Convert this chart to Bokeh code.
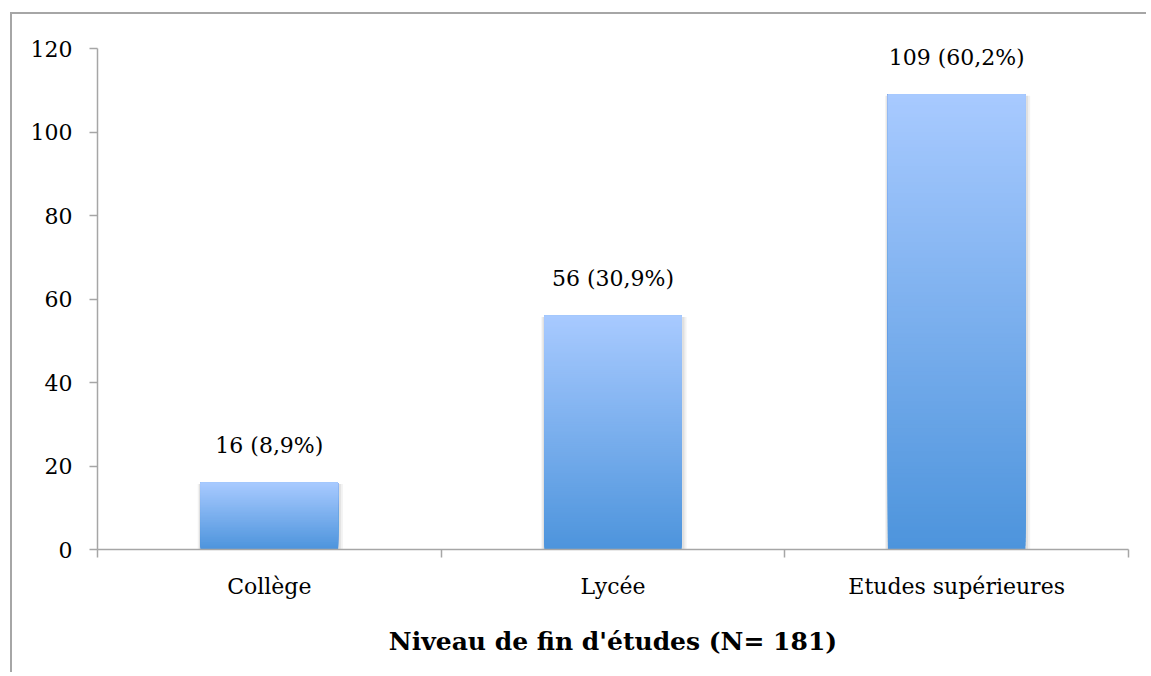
from bokeh.plotting import figure
from bokeh.models import Range1d, FixedTicker, ColumnDataSource
from bokeh.core.properties import value
from bokeh.embed import file_html
from bokeh.resources import INLINE

# ---- data ----
categories = ["Collège", "Lycée", "Etudes supérieures"]
counts = [16, 56, 109]
percents = ["8,9%", "30,9%", "60,2%"]
y_ticks = [0, 20, 40, 60, 80, 100, 120]
axis_title = "Niveau de fin d'études (N= 181)"

FONT = "DejaVu Serif"
AXIS_COLOR = "#a6a6a6"
TOP_RGB = (168, 202, 255)
BOT_RGB = (77, 148, 220)
N_SLICES = 120
BAR_W = 0.4

xs = [i + 0.5 for i in range(len(categories))]

p = figure(width=1136, height=660, output_backend="svg", toolbar_location=None,
           x_range=Range1d(0, len(categories)), y_range=Range1d(0, 120),
           min_border_left=85, min_border_right=20, min_border_top=34,
           min_border_bottom=125)
p.styles = {"border-left": "2px solid #a6a6a6", "border-top": "2px solid #a6a6a6",
            "margin-left": "10px", "margin-top": "12px"}
p.outline_line_color = None
p.grid.visible = False
p.background_fill_color = "white"
p.border_fill_color = "white"

# soft shadow behind bars
for grow, alpha in [(0.014, 0.05), (0.008, 0.07)]:
    p.quad(left=[x - BAR_W / 2 - grow * 0.6 for x in xs],
           right=[x + BAR_W / 2 + grow for x in xs],
           bottom=[0] * len(xs), top=[v - 0.3 for v in counts],
           fill_color="black", fill_alpha=alpha, line_color=None)

# gradient bars built from overlapping slices of each bar
left, right, bottom, top, color = [], [], [], [], []
for x, v in zip(xs, counts):
    for k in range(N_SLICES):
        f0 = k / N_SLICES
        t = (k + 0.5) / N_SLICES  # 0 bottom -> 1 top
        r = int(round(BOT_RGB[0] + (TOP_RGB[0] - BOT_RGB[0]) * t))
        g = int(round(BOT_RGB[1] + (TOP_RGB[1] - BOT_RGB[1]) * t))
        b = int(round(BOT_RGB[2] + (TOP_RGB[2] - BOT_RGB[2]) * t))
        left.append(x - BAR_W / 2)
        right.append(x + BAR_W / 2)
        bottom.append(v * f0)
        top.append(v)
        color.append("#%02x%02x%02x" % (r, g, b))
src = ColumnDataSource(dict(left=left, right=right, bottom=bottom, top=top, color=color))
p.quad(left="left", right="right", bottom="bottom", top="top", fill_color="color",
       line_color=None, source=src)

# value labels
lab_src = ColumnDataSource(dict(x=xs, y=counts,
                                text=[f"{c} ({pc})" for c, pc in zip(counts, percents)]))
p.text(x="x", y="y", text="text", source=lab_src, text_align="center",
       text_baseline="middle", y_offset=-37, text_font=value(FONT),
       text_font_size="22px", text_color="black")

# x axis
xa = p.xaxis[0]
xa.ticker = FixedTicker(ticks=xs, minor_ticks=list(range(len(categories) + 1)))
xa.major_label_overrides = {x: c for x, c in zip(xs, categories)}
xa.major_tick_out = 0
xa.major_tick_in = 0
xa.minor_tick_out = 8
xa.minor_tick_in = 0
xa.minor_tick_line_color = AXIS_COLOR
xa.minor_tick_line_width = 1.5
xa.axis_line_color = AXIS_COLOR
xa.axis_line_width = 1.5
xa.major_label_text_font = FONT
xa.major_label_text_font_size = "22px"
xa.major_label_text_color = "black"
xa.major_label_standoff = 16
xa.axis_label = axis_title
xa.axis_label_text_font = FONT
xa.axis_label_text_font_size = "25px"
xa.axis_label_text_font_style = "bold"
xa.axis_label_text_color = "black"
xa.axis_label_standoff = 25

# y axis
ya = p.yaxis[0]
ya.ticker = FixedTicker(ticks=y_ticks)
ya.major_tick_out = 8
ya.major_tick_in = 0
ya.minor_tick_line_color = None
ya.major_tick_line_color = AXIS_COLOR
ya.major_tick_line_width = 1.5
ya.axis_line_color = AXIS_COLOR
ya.axis_line_width = 1.5
ya.major_label_text_font = FONT
ya.major_label_text_font_size = "22px"
ya.major_label_text_color = "black"
ya.major_label_standoff = 17

open("out.html", "w").write(file_html(p, INLINE))
